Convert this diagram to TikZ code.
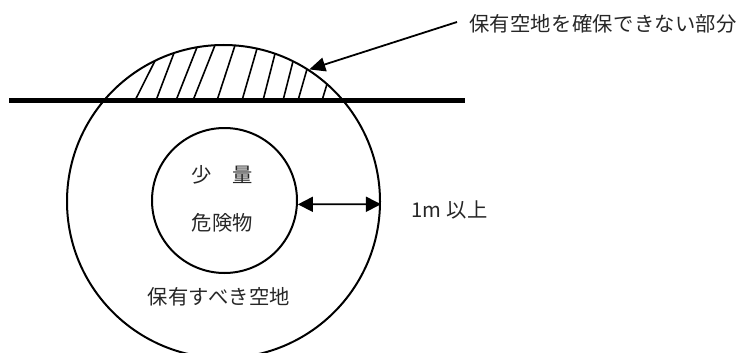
\documentclass[tikz,border=0pt]{standalone}
\usepackage{fontspec}
\setmainfont{Noto Sans CJK JP}[LetterSpace=1.5]
\usetikzlibrary{arrows.meta}
\tikzset{
  ring/.style={draw, circle, inner sep=0pt, line width=2pt},
  lbl/.style={inner sep=0pt, font=\fontsize{20.3pt}{22pt}\selectfont, text=black!85},
  hatch/.style={line width=1.6pt},
  tip/.style={-{Triangle[length=16pt,width=14pt]}, line width=1.8pt},
}
\begin{document}
\begin{tikzpicture}[x=1pt,y=-1pt]
\useasboundingbox (0,0) rectangle (747,353);
\clip (0,0) rectangle (747,353);
\node[ring, minimum size=313pt] (outer) at (223.5,201.5) {};
\node[ring, minimum size=145pt] (inner) at (224.5,200.5) {};
% hatching
\foreach \xb/\xt/\yt in {135/155/60.8,156/174/53,176/197/47.3,193/215/45.2,217/235/45.4,242/257/48.6,263/275/53.7,283/293/61.3,298/307/69.1,322/327/84.1}
  \draw[hatch] (\xb,100.5) -- (\xt,\yt);
% ground line
\coordinate (gl) at (9,100.5);
\coordinate (gr) at (465,100.5);
\draw[line width=5pt] (gl) -- (gr);
% distance arrow
\draw[{Triangle[length=15pt,width=15pt]}-{Triangle[length=15pt,width=15pt]}, line width=1.8pt] (inner.-3.6) -- (outer.-1.3);
% pointer
\coordinate (pt) at (457,22);
\draw[tip] (pt) -- (outer.57.3);
% labels
\node[lbl, anchor=west] (cap) at (469,24) {保有空地を確保できない部分};
\node[lbl] (t1) at (222.5,175) {少　量};
\node[lbl] (t2) at (222.5,223) {危険物};
\node[lbl, anchor=west] (t3) at (411,210) {1m 以上};
\node[lbl] (t4) at (219,297) {保有すべき空地};
\end{tikzpicture}
\end{document}
